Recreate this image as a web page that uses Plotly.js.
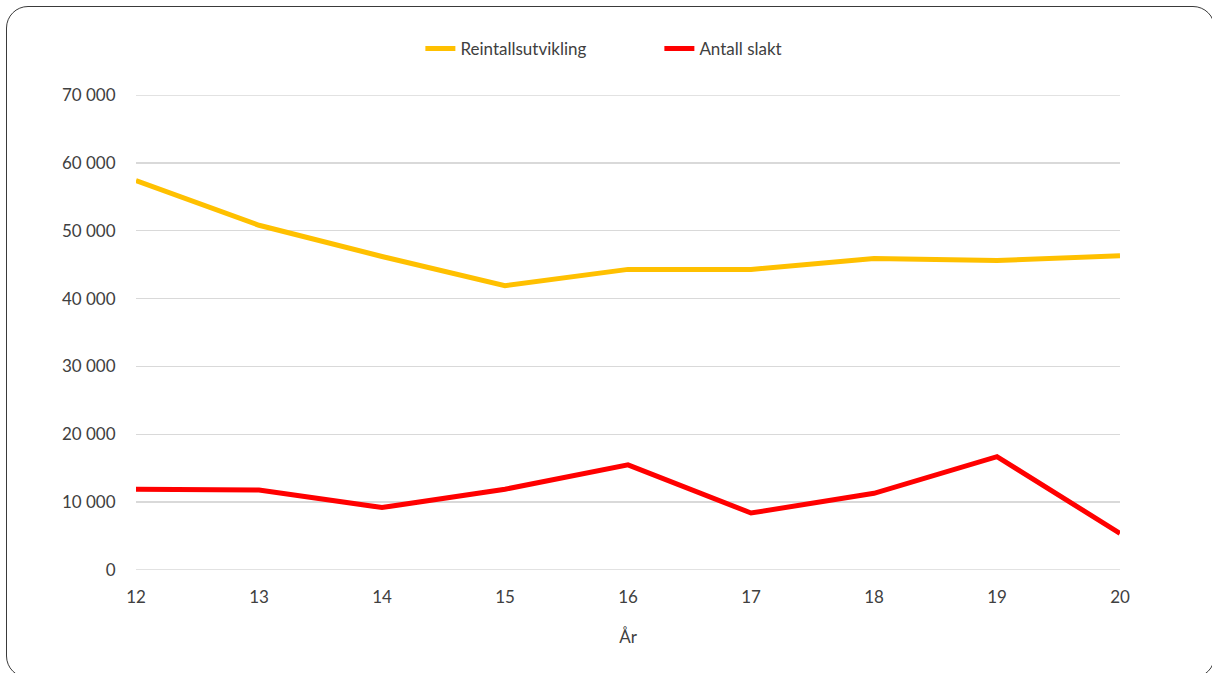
<!DOCTYPE html>
<html>
<head>
<meta charset="utf-8">
<script src="https://cdn.plot.ly/plotly-3.0.1.min.js"></script>
<style>
  html, body { margin: 0; padding: 0; background: #fff; }
  #wrap { position: relative; width: 1212px; height: 673px; overflow: hidden; }
  #chart { position: absolute; left: 0; top: 0; width: 1212px; height: 673px; }
  #frame { position: absolute; left: 6px; top: 6px; width: 1209px; height: 672px; box-sizing: border-box;
           border: 1px solid #3a3a3a; border-radius: 22px; pointer-events: none; }
</style>
</head>
<body>
<div id="wrap">
  <div id="chart"></div>
  <div id="frame"></div>
</div>
<script>
const years = [12, 13, 14, 15, 16, 17, 18, 19, 20];
const reintall = [57400, 50800, 46200, 41900, 44300, 44300, 45900, 45600, 46300];
const slakt = [11900, 11800, 9200, 11900, 15500, 8400, 11300, 16700, 5400];
const seriesNames = ["Reintallsutvikling", "Antall slakt"];
const xTitle = "År";
const yMin = 0, yMax = 70000;

const font = "Lato, 'Open Sans', sans-serif";
const traces = [
  { x: years, y: reintall, name: seriesNames[0], type: "scatter", mode: "lines",
    line: { color: "#FFC000", width: 5 } },
  { x: years, y: slakt, name: seriesNames[1], type: "scatter", mode: "lines",
    line: { color: "#FF0000", width: 5 } }
];
const edgeGrid = [yMin, yMax].map(v => ({
  type: "line", xref: "paper", yref: "y", x0: 0, x1: 1, y0: v, y1: v,
  line: { color: "#d9d9d9", width: 1.5 }, layer: "below"
}));
const layout = {
  width: 1212, height: 673,
  margin: { l: 136, r: 92, t: 95, b: 103 },
  paper_bgcolor: "#fff", plot_bgcolor: "#fff",
  separators: ", ",
  font: { family: font, size: 17, color: "#404040" },
  showlegend: true,
  legend: { orientation: "h", x: 0.289, xanchor: "left", y: 1.097, yanchor: "middle",
            font: { family: font, size: 17, color: "#404040" },
            entrywidth: 194, entrywidthmode: "pixels" },
  shapes: edgeGrid,
  xaxis: {
    range: [12, 20], dtick: 1, tick0: 12, showgrid: false, zeroline: false,
    showline: false, ticks: "outside", ticklen: 12, tickcolor: "rgba(0,0,0,0)",
    tickfont: { family: font, size: 17, color: "#404040" },
    title: { text: xTitle, standoff: 24, font: { family: font, size: 17, color: "#404040" } }
  },
  yaxis: {
    range: [yMin, yMax], dtick: 10000, tick0: 0, tickformat: ",d",
    showgrid: true, gridcolor: "#d9d9d9", gridwidth: 1.5, zeroline: false, showline: false,
    ticks: "outside", ticklen: 16, tickcolor: "rgba(0,0,0,0)",
    tickfont: { family: font, size: 17, color: "#404040" }
  }
};
Plotly.newPlot("chart", traces, layout, { displayModeBar: false, staticPlot: true });
</script>
</body>
</html>
